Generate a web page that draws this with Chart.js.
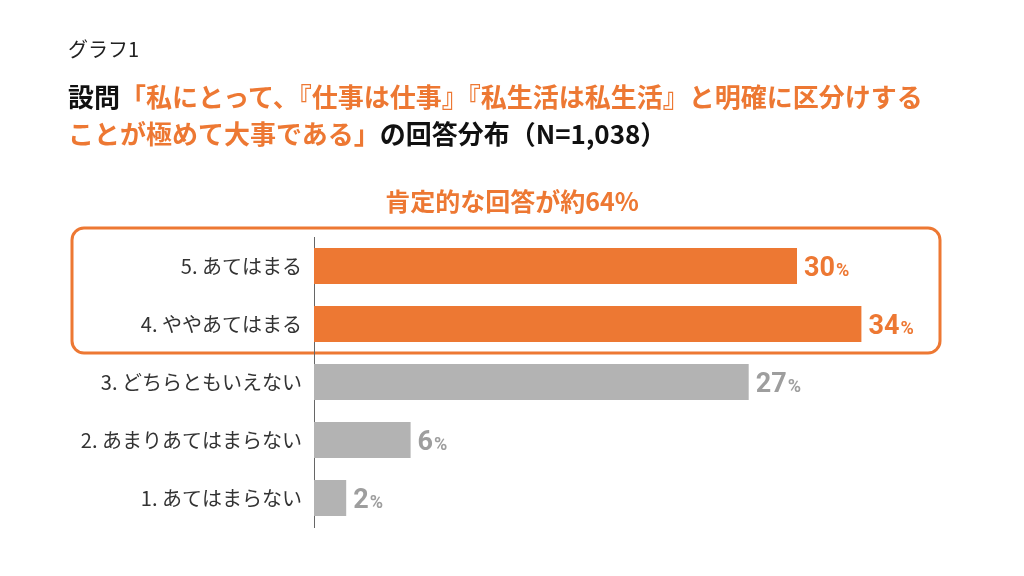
<!DOCTYPE html>
<html>
<head>
<meta charset="utf-8">
<script src="https://cdn.jsdelivr.net/npm/chart.js@4/dist/chart.umd.min.js"></script>
<style>
  body { margin: 0; background: #fff; font-family: "Noto Sans CJK JP", sans-serif; }
  #wrap { position: relative; width: 1024px; height: 576px; }
  canvas { position: absolute; left: 0; top: 0; }
  .t { position: absolute; left: 68px; white-space: nowrap; line-height: 1; }
  .or { color: #ED7833; }
</style>
</head>
<body>
<div id="wrap">
  <canvas id="myChart" width="1024" height="576"></canvas>
  <div class="t" style="top:39px;font-size:20px;color:#222">グラフ1</div>
  <div class="t" style="top:83px;font-size:26px;font-weight:bold;color:#111">設問<span class="or">「私にとって、『仕事は仕事』『私生活は私生活』と明確に区分けする</span></div>
  <div class="t" style="top:120px;font-size:26px;font-weight:bold;color:#111"><span class="or">ことが極めて大事である」</span>の回答分布（N=1,038）</div>
  <div class="t or" style="top:188px;left:0;width:1024px;text-align:center;font-size:25px;font-weight:bold">肯定的な回答が約64%</div>
</div>
<script>
const categories = ['5. あてはまる', '4. ややあてはまる', '3. どちらともいえない', '2. あまりあてはまらない', '1. あてはまらない'];
const values = [30, 34, 27, 6, 2];
const barColors = ['#ED7833', '#ED7833', '#B3B3B3', '#B3B3B3', '#B3B3B3'];
const labelColors = ['#ED7833', '#ED7833', '#9E9E9E', '#9E9E9E', '#9E9E9E'];

// rounded orange frame around the two positive answers
const framePlugin = {
  id: 'frame',
  beforeDraw(chart) {
    const ctx = chart.ctx;
    const y = chart.scales.y;
    const top = chart.chartArea.top - 9;
    const bottom = (y.getPixelForValue(1) + y.getPixelForValue(2)) / 2;
    ctx.save();
    ctx.strokeStyle = '#ED7833';
    ctx.lineWidth = 3;
    ctx.beginPath();
    ctx.roundRect(72, top, 868, bottom - top, 12);
    ctx.stroke();
    ctx.restore();
  }
};

const valueLabels = {
  id: 'valueLabels',
  afterDatasetsDraw(chart) {
    const ctx = chart.ctx;
    chart.getDatasetMeta(0).data.forEach((bar, i) => {
      const num = String(values[i]);
      ctx.save();
      ctx.fillStyle = labelColors[i];
      ctx.textBaseline = 'alphabetic';
      ctx.font = 'bold 27px Roboto';
      const x = bar.x + 7;
      const base = bar.y + 10;
      ctx.fillText(num, x, base);
      const w = ctx.measureText(num).width;
      ctx.font = 'bold 18px Roboto';
      ctx.fillText('%', x + w + 1, base);
      ctx.restore();
    });
  }
};

new Chart(document.getElementById('myChart'), {
  type: 'bar',
  data: {
    labels: categories,
    datasets: [{
      data: values,
      backgroundColor: barColors,
      barPercentage: 0.8,
      categoryPercentage: 0.78
    }]
  },
  options: {
    indexAxis: 'y',
    responsive: false,
    animation: false,
    layout: { padding: { top: 237, bottom: 49, left: 0, right: 66 } },
    plugins: { legend: { display: false }, tooltip: { enabled: false } },
    scales: {
      x: { display: false, min: 0, max: 40 },
      y: {
        grid: { display: false },
        border: { color: '#666', width: 1 },
        ticks: { color: '#333', padding: 4, font: { family: '"Noto Sans CJK JP"', size: 20 } },
        afterFit(scale) { scale.width = 314; }
      }
    }
  },
  plugins: [framePlugin, valueLabels]
});
</script>
</body>
</html>
